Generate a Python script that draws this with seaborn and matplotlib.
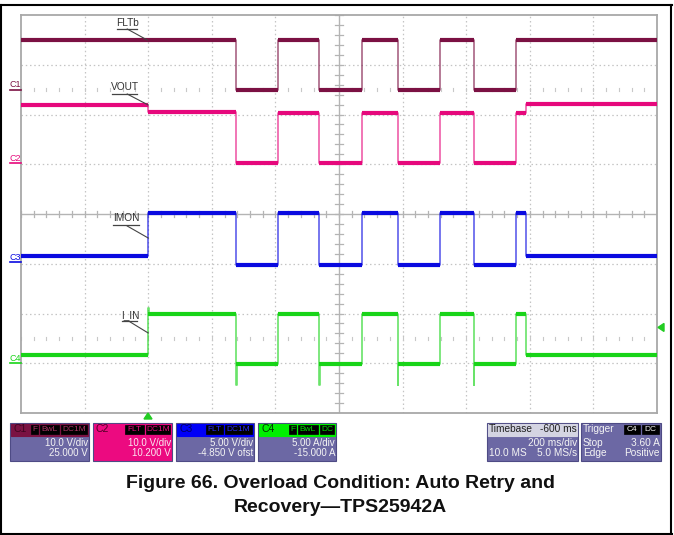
import numpy as np
import pandas as pd
import matplotlib
matplotlib.use("Agg")
import matplotlib.pyplot as plt
import seaborn as sns
from matplotlib.patches import Rectangle, Polygon
from matplotlib.lines import Line2D

# ---------------- data (read from the scope shot) ----------------
t_ms   = [-400, 0, 276, 408, 538, 672, 784, 918, 1023, 1156, 1187, 1600]
fltb_v = [10, 10, 0, 10, 0, 10, 0, 10, 0, 10, 10, 10]
vout_v = [11.8, 10.3, 0, 10.1, 0, 10.1, 0, 10.1, 0, 10.1, 11.9, 11.9]
imon_v = [0.6, 4.95, -0.25, 4.95, -0.25, 4.95, -0.25, 4.95, -0.25, 4.95, 0.6, 0.6]
iin_a  = [0.8, 4.95, -0.1, 4.95, -0.1, 4.95, -0.1, 4.95, -0.1, 4.95, 0.8, 0.8]
iin_spike_t = [0, 276, 538, 784, 1023]
iin_spike_a = [5.6, -2.2, -2.2, -2.2, -2.2]

channels = ["C1", "C2", "C3", "C4"]
names = ["FLTb", "VOUT", "IMON", "I_IN"]
ch_scale = [10.0, 10.0, 5.00, 5.00]
ch_offset = [25.0, 10.2, -4.85, -15.0]
ch_scale_txt = ["10.0 V/div", "10.0 V/div", "5.00 V/div", "5.00 A/div"]
ch_offset_txt = ["25.000 V", "10.200 V", "-4.850 V ofst", "-15.000 A"]
trigger_level_a = 3.60
timebase_ms_div = 200
timebase_delay_ms = -600

colors = {"FLTb": "#7b1143", "VOUT": "#e6087c", "IMON": "#0a0ae0", "I_IN": "#18d418"}

# ---------------- setup ----------------
plt.rcParams["font.family"] = ["Liberation Sans", "DejaVu Sans"]
W, H = 674, 535
fig = plt.figure(figsize=(W / 100, H / 100), dpi=100)
fig.patch.set_facecolor("white")

def X(x):
    return x / W

def Y(y):
    return 1 - y / H

PL, PR, PT, PB = 21, 657, 15, 413
ax = fig.add_axes([X(PL), Y(PB), (PR - PL) / W, (PB - PT) / H])
ax.set_xlim(-400, 1600)
ax.set_ylim(0, 8)
ax.set_xticks([])
ax.set_yticks([])
for s in ax.spines.values():
    s.set_color("#a8a8a8")
    s.set_linewidth(1.3)

# graticule
for k in range(1, 10):
    xv = -400 + k * 200
    if k == 5:
        ax.axvline(xv, color="#b4b4b4", lw=1.0, zorder=1)
    else:
        ax.axvline(xv, color="#c4c4c4", lw=0.9, ls=(0, (1.2, 2.2)), zorder=1)
for k in range(1, 8):
    if k == 4:
        ax.axhline(k, color="#b4b4b4", lw=1.0, zorder=1)
    else:
        ax.axhline(k, color="#c4c4c4", lw=0.9, ls=(0, (1.2, 2.2)), zorder=1)
# minor ticks on centre cross
for xt in np.arange(-400, 1601, 40):
    ax.plot([xt, xt], [3.94, 4.06], color="#b4b4b4", lw=0.9, zorder=1)
    for yy in (6.5, 1.5):
        ax.plot([xt, xt], [yy - 0.03, yy + 0.03], color="#c8c8c8", lw=0.8, zorder=1)
for yt in np.arange(0, 8.01, 0.2):
    ax.plot([588, 612], [yt, yt], color="#b4b4b4", lw=0.9, zorder=1)

# ---------------- traces via seaborn ----------------
rows = []
series = [fltb_v, vout_v, imon_v, iin_a]
divs = {}
for ci, (nm, vals) in enumerate(zip(names, series)):
    d = [4 + (v + ch_offset[ci]) / ch_scale[ci] for v in vals]
    divs[nm] = d
    order = 0
    for i, (tt, dv) in enumerate(zip(t_ms, d)):
        if nm == "I_IN" and tt in iin_spike_t:
            sp = iin_spike_a[iin_spike_t.index(tt)]
            rows.append((tt, 4 + (sp + ch_offset[ci]) / ch_scale[ci], nm, order)); order += 1
            rows.append((tt + 3, dv, nm, order)); order += 1
        else:
            rows.append((tt, dv, nm, order)); order += 1
df = pd.DataFrame(rows, columns=["t", "div", "signal", "order"])

sns.lineplot(data=df, x="t", y="div", hue="signal", palette=colors, estimator=None,
             sort=False, drawstyle="steps-post", lw=1.2, alpha=0.65, legend=False,
             ax=ax, zorder=3)
for nm in names:
    d = divs[nm]
    ax.hlines(d[:-1], t_ms[:-1], t_ms[1:], color=colors[nm], lw=3.0, zorder=4)
ax.set_xlabel("")
ax.set_ylabel("")
ax.set_xlim(-400, 1600)
ax.set_ylim(0, 8)

# ---------------- signal labels ----------------
def ms(xpx):
    return (xpx - 148) / 63.6 * 200

def dv(ypx):
    return (PB - ypx) / ((PB - PT) / 8)

labels = [("FLTb", 127, 23, 117, 137, 29, (127, 29), (147, 40)),
          ("VOUT", 125, 87, 112, 137, 94, (127, 94), (148, 105)),
          ("IMON", 126, 218, 113, 139, 225, (127, 226), (148, 238)),
          ("I_IN", 130, 315, 122, 137, 321, (130, 322), (148, 333))]
for txt, cx, cy, ux0, ux1, uy, p0, p1 in labels:
    ax.text(ms(cx), dv(cy), txt, fontsize=7.3, color="#333333", ha="center", va="center", zorder=6)
    ax.plot([ms(ux0), ms(ux1)], [dv(uy), dv(uy)], color="#444444", lw=0.9, zorder=6)
    ax.plot([ms(p0[0]), ms(p1[0])], [dv(p0[1]), dv(p1[1])], color="#444444", lw=0.8, zorder=6)

# ground markers
for ci, ch in enumerate(channels):
    g = 4 + ch_offset[ci] / ch_scale[ci]
    gy = PB - g * (PB - PT) / 8
    c = colors[names[ci]]
    fig.text(X(15), Y(gy - 5), ch, fontsize=6.5, color=c, ha="center", va="center")
    fig.add_artist(Line2D([X(10), X(21)], [Y(gy), Y(gy)], color=c, lw=1.2))

# trigger markers
tl = 4 + (trigger_level_a + ch_offset[3]) / ch_scale[3]
ty = PB - tl * (PB - PT) / 8
fig.add_artist(Polygon([[X(658), Y(ty)], [X(664), Y(ty - 4)], [X(664), Y(ty + 4)]],
                       closed=True, color="#22cc22"))
tx = 148
fig.add_artist(Polygon([[X(tx), Y(413)], [X(tx - 4), Y(419)], [X(tx + 4), Y(419)]],
                       closed=True, color="#22cc22"))

# ---------------- info boxes ----------------
BODY = "#6c68a4"
EDGE = "#4e4b85"

def rect(x0, y0, x1, y1, fc, ec=None, lw=0.8):
    fig.add_artist(Rectangle((X(x0), Y(y1)), X(x1) - X(x0), Y(y0) - Y(y1),
                             facecolor=fc, edgecolor=ec if ec else fc, lw=lw))

def ptxt(x, y, s, color="#f4f4f4", size=6.8, ha="left", weight="normal"):
    fig.text(X(x), Y(y), s, color=color, fontsize=size, ha=ha, va="center", weight=weight)

def badge(x0, x1, s, color):
    rect(x0, 425, x1, 434, "#000000", "#000000", 0.5)
    ptxt((x0 + x1) / 2, 429.5, s, color=color, size=6, ha="center")

chan_boxes = [
    (10, 89, "#7a1242", "#3f0520", [(31, 38, "F"), (40, 59, "BwL"), (61, 87, "DC1M")], "#b03468", BODY, "#f4f4f4"),
    (93, 172, "#ec0a80", "#500025", [(125, 144, "FLT"), (146, 170, "DC1M")], "#ec0a80", "#ec0a80", "#fbe8f2"),
    (176, 254, "#0000f8", "#000060", [(206, 223, "FLT"), (225, 252, "DC1M")], "#2a2aff", BODY, "#f4f4f4"),
    (258, 336, "#00f000", "#003000", [(289, 296, "F"), (298, 318, "BwL"), (320, 334, "DC")], "#00e000", BODY, "#f4f4f4"),
]
for ci, (x0, x1, hc, ctc, bdg, btc, body, txc) in enumerate(chan_boxes):
    rect(x0, 423, x1, 461, body, EDGE)
    rect(x0 + 1, 424, x1 - 1, 436, hc, hc)
    ptxt(x0 + 3, 429.5, channels[ci], color=ctc, size=7.5)
    for bx0, bx1, s in bdg:
        badge(bx0, bx1, s, btc)
    ptxt(x1 - 1, 443, ch_scale_txt[ci], color=txc, ha="right", size=7.0)
    ptxt(x1 - 1, 453.5, ch_offset_txt[ci], color=txc, ha="right", size=7.0)

# timebase
rect(487, 423, 578, 461, BODY, EDGE)
rect(488, 424, 577, 436, "#d4d4e2", "#d4d4e2")
ptxt(489, 429.5, "Timebase", color="#202020", size=7.3)
ptxt(577, 429.5, f"{timebase_delay_ms} ms", color="#202020", size=7.3, ha="right")
ptxt(577, 443, f"{timebase_ms_div} ms/div", ha="right", size=7.3)
ptxt(489, 453.5, "10.0 MS", size=7.3)
ptxt(577, 453.5, "5.0 MS/s", ha="right", size=7.3)

# trigger
rect(581, 423, 661, 461, BODY, EDGE)
ptxt(583, 429.5, "Trigger", size=7.3)
rect(624, 425, 640, 434, "#000000", "#000000", 0.5)
ptxt(632, 429.5, "C4", size=6, ha="center")
rect(642, 425, 659, 434, "#000000", "#000000", 0.5)
ptxt(650.5, 429.5, "DC", size=6, ha="center")
ptxt(583, 443, "Stop", size=7.3)
ptxt(660, 443, f"{trigger_level_a:.2f} A", ha="right", size=7.3)
ptxt(583, 453.5, "Edge", size=7.3)
ptxt(660, 453.5, "Positive", ha="right", size=7.3)

# ---------------- caption & page frame ----------------
fig.text(X(340), Y(483), "Figure 66. Overload Condition: Auto Retry and", fontsize=14,
         weight="bold", ha="center", va="center", color="#111111")
fig.text(X(340), Y(508), "Recovery\u2014TPS25942A", fontsize=14,
         weight="bold", ha="center", va="center", color="#111111")

for (xa, ya, xb, yb) in [(0, 5, 672, 5), (671, 5, 671, 534), (0, 533.5, 672, 533.5), (0.7, 5, 0.7, 534)]:
    fig.add_artist(Line2D([X(xa), X(xb)], [Y(ya), Y(yb)], color="black", lw=1.5))

fig.savefig("out.png", dpi=100)
